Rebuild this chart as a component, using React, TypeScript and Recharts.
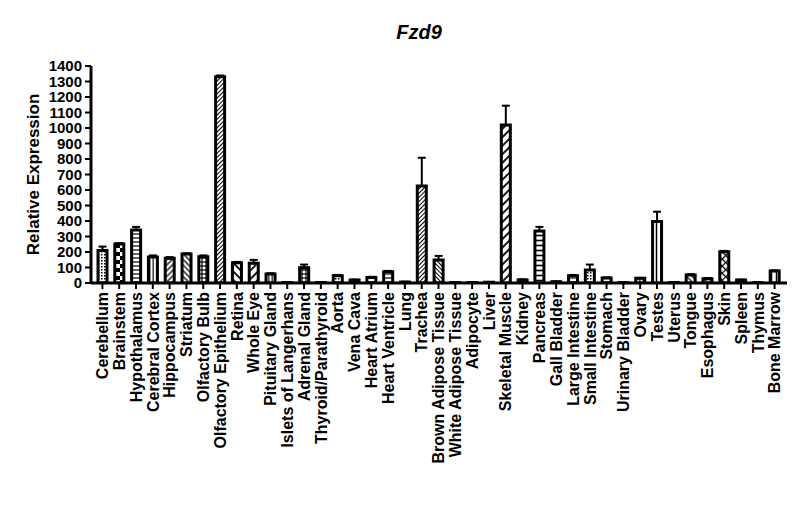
import { BarChart, Bar, XAxis, YAxis, ErrorBar, Cell } from 'recharts';

const tissues = [
  'Cerebellum', 'Brainstem', 'Hypothalamus', 'Cerebral Cortex', 'Hippocampus', 'Striatum',
  'Olfactory Bulb', 'Olfactory Epithelium', 'Retina', 'Whole Eye', 'Pituitary Gland',
  'Islets of Langerhans', 'Adrenal Gland', 'Thyroid/Parathyroid', 'Aorta', 'Vena Cava',
  'Heart Atrium', 'Heart Ventricle', 'Lung', 'Trachea', 'Brown Adipose Tissue',
  'White Adipose Tissue', 'Adipocyte', 'Liver', 'Skeletal Muscle', 'Kidney', 'Pancreas',
  'Gall Bladder', 'Large Intestine', 'Small Intestine', 'Stomach', 'Urinary Bladder', 'Ovary',
  'Testes', 'Uterus', 'Tongue', 'Esophagus', 'Skin', 'Spleen', 'Thymus', 'Bone Marrow',
];

const expression = [
  210, 252, 342, 168, 159, 187, 170, 1331, 131, 127, 58, 3, 99, 3, 47, 19, 35, 73, 6, 626, 148,
  3, 3, 5, 1019, 20, 335, 8, 47, 84, 32, 2, 30, 396, 3, 52, 28, 202, 19, 2, 77,
];

const sem = [
  25, 5, 20, 10, 8, 5, 8, 8, 5, 22, 5, 1, 20, 1, 5, 3, 5, 5, 2, 182, 27,
  1, 1, 1, 125, 4, 27, 1, 5, 35, 4, 1, 3, 64, 1, 5, 4, 5, 3, 1, 5,
];

const yTicks = [0, 100, 200, 300, 400, 500, 600, 700, 800, 900, 1000, 1100, 1200, 1300, 1400];

// fill pattern per bar (style only)
const barPatterns = [
  'dots', 'checker', 'hlines', 'vlines', 'fwd', 'back', 'grid', 'fwdDense', 'backWide', 'fwdWide',
  'vlines', 'white', 'grid', 'white', 'dots', 'white', 'hlines', 'hlines', 'white', 'fwdDense',
  'backDense', 'white', 'white', 'white', 'fwdWide', 'white', 'ladder', 'white', 'hlines', 'dots',
  'hlines', 'white', 'vlines', 'vwide', 'white', 'back', 'fwd', 'diamond', 'white', 'white', 'vwide',
];

const data = tissues.map((tissue, i) => ({ tissue, value: expression[i], err: [0, sem[i]] }));

const FONT = '"Liberation Sans", Arial, sans-serif';

function TissueTick(props: any) {
  const { x, y, payload } = props;
  return (
    <g transform={`translate(${x},${y})`}>
      <text
        transform="rotate(-90)"
        textAnchor="end"
        dy="0.36em"
        fontFamily={FONT}
        fontWeight="bold"
        fontSize={16}
        fill="#000"
      >
        {payload.value}
      </text>
    </g>
  );
}

export default function App() {
  return (
    <div style={{ position: 'relative', width: 792, height: 514 }}>
      <div
        style={{
          position: 'absolute',
          left: 361,
          top: 14,
          width: 100,
          textAlign: 'center',
          fontFamily: FONT,
          fontWeight: 'bold',
          fontStyle: 'italic',
          fontSize: 20,
          lineHeight: '20px',
        }}
      >
        Fzd9
      </div>
      <BarChart
        width={792}
        height={514}
        data={data}
        margin={{ top: 58, right: 13, bottom: 0, left: 0 }}
        barCategoryGap={0}
      >
        <defs>
          <pattern id="dots" patternUnits="userSpaceOnUse" width={3} height={3}>
            <rect width={3} height={3} fill="#fff" />
            <rect width={1.5} height={1.5} fill="#000" />
          </pattern>
          <pattern id="checker" patternUnits="userSpaceOnUse" width={8} height={8}>
            <rect width={8} height={8} fill="#fff" />
            <rect width={4} height={4} fill="#000" />
            <rect x={4} y={4} width={4} height={4} fill="#000" />
          </pattern>
          <pattern id="hlines" patternUnits="userSpaceOnUse" width={4} height={4}>
            <rect width={4} height={4} fill="#fff" />
            <line x1={0} y1={2} x2={4} y2={2} stroke="#000" strokeWidth={1.2} />
          </pattern>
          <pattern id="vlines" patternUnits="userSpaceOnUse" width={3.5} height={4}>
            <rect width={3.5} height={4} fill="#fff" />
            <line x1={1.75} y1={0} x2={1.75} y2={4} stroke="#000" strokeWidth={1.2} />
          </pattern>
          <pattern id="vwide" patternUnits="userSpaceOnUse" width={5} height={4} x={1}>
            <rect width={5} height={4} fill="#fff" />
            <line x1={2.5} y1={0} x2={2.5} y2={4} stroke="#000" strokeWidth={1.5} />
          </pattern>
          <pattern id="grid" patternUnits="userSpaceOnUse" width={4} height={4}>
            <rect width={4} height={4} fill="#fff" />
            <line x1={0} y1={2} x2={4} y2={2} stroke="#000" strokeWidth={1.2} />
            <line x1={2} y1={0} x2={2} y2={4} stroke="#000" strokeWidth={1.2} />
          </pattern>
          <pattern id="ladder" patternUnits="userSpaceOnUse" width={5} height={5}>
            <rect width={5} height={5} fill="#fff" />
            <line x1={0} y1={2.5} x2={5} y2={2.5} stroke="#000" strokeWidth={1.6} />
          </pattern>
          <pattern id="fwd" patternUnits="userSpaceOnUse" width={4} height={4} patternTransform="rotate(45)">
            <rect width={4} height={4} fill="#fff" />
            <line x1={2} y1={0} x2={2} y2={4} stroke="#000" strokeWidth={1.3} />
          </pattern>
          <pattern id="back" patternUnits="userSpaceOnUse" width={4} height={4} patternTransform="rotate(-45)">
            <rect width={4} height={4} fill="#fff" />
            <line x1={2} y1={0} x2={2} y2={4} stroke="#000" strokeWidth={1.3} />
          </pattern>
          <pattern id="fwdDense" patternUnits="userSpaceOnUse" width={3} height={3} patternTransform="rotate(45)">
            <rect width={3} height={3} fill="#fff" />
            <line x1={1.5} y1={0} x2={1.5} y2={3} stroke="#000" strokeWidth={1} />
          </pattern>
          <pattern id="backDense" patternUnits="userSpaceOnUse" width={3} height={3} patternTransform="rotate(-45)">
            <rect width={3} height={3} fill="#fff" />
            <line x1={1.5} y1={0} x2={1.5} y2={3} stroke="#000" strokeWidth={1} />
          </pattern>
          <pattern id="fwdWide" patternUnits="userSpaceOnUse" width={6} height={6} patternTransform="rotate(45)">
            <rect width={6} height={6} fill="#fff" />
            <line x1={3} y1={0} x2={3} y2={6} stroke="#000" strokeWidth={1.8} />
          </pattern>
          <pattern id="backWide" patternUnits="userSpaceOnUse" width={6} height={6} patternTransform="rotate(-45)">
            <rect width={6} height={6} fill="#fff" />
            <line x1={3} y1={0} x2={3} y2={6} stroke="#000" strokeWidth={1.8} />
          </pattern>
          <pattern id="diamond" patternUnits="userSpaceOnUse" width={5} height={5} patternTransform="rotate(45)">
            <rect width={5} height={5} fill="#fff" />
            <line x1={2.5} y1={0} x2={2.5} y2={5} stroke="#000" strokeWidth={1.2} />
            <line x1={0} y1={2.5} x2={5} y2={2.5} stroke="#000" strokeWidth={1.2} />
          </pattern>
          <pattern id="white" patternUnits="userSpaceOnUse" width={4} height={4}>
            <rect width={4} height={4} fill="#fff" />
          </pattern>
        </defs>
        <XAxis
          dataKey="tissue"
          interval={0}
          height={239}
          padding={{ left: 3, right: 4 }}
          axisLine={{ stroke: '#000', strokeWidth: 3 }}
          tickLine={{ stroke: '#000', strokeWidth: 2 }}
          tickSize={6}
          tickMargin={3}
          tick={<TissueTick />}
        />
        <YAxis
          width={83}
          domain={[0, 1400]}
          ticks={yTicks}
          interval={0}
          allowDataOverflow
          axisLine={{ stroke: '#000', strokeWidth: 3 }}
          tickLine={{ stroke: '#000', strokeWidth: 2 }}
          tickSize={6}
          tickMargin={3}
          tick={{ fill: '#000', fontSize: 15, fontWeight: 'bold', fontFamily: FONT }}
          label={{
            value: 'Relative Expression',
            angle: -90,
            position: 'center',
            dx: -17,
            style: { fill: '#000', fontSize: 17, fontWeight: 'bold', fontFamily: FONT },
          }}
        />
        <Bar dataKey="value" barSize={9} stroke="#000" strokeWidth={3} isAnimationActive={false}>
          {data.map((d, i) => (
            <Cell key={d.tissue} fill={`url(#${barPatterns[i]})`} />
          ))}
          <ErrorBar dataKey="err" direction="y" width={4} stroke="#000" strokeWidth={2} isAnimationActive={false} />
        </Bar>
      </BarChart>
    </div>
  );
}
